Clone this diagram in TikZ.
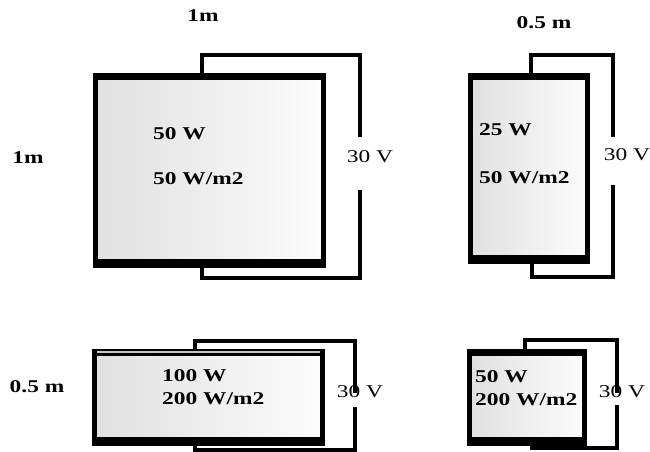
\documentclass[tikz,border=0pt]{standalone}
\usepackage{fontspec}
\setmainfont[FakeStretch=1.3]{Liberation Serif}
\usetikzlibrary{backgrounds}
\begin{document}
\begin{tikzpicture}[x=1pt,y=-1pt,
  panel/.style={draw=black, line width=5pt, left color=black!12, right color=black!1, inner sep=0pt, outer sep=0pt},
  topbar/.style={line width=7pt},
  botbar/.style={line width=9pt},
  wire/.style={line width=4pt, line join=miter},
  lbl/.style={font=\fontsize{18}{20}\selectfont\bfseries, inner sep=0pt, anchor=base},
  val/.style={font=\fontsize{18}{20}\selectfont\bfseries, inner sep=0pt, anchor=base west},
  volt/.style={font=\fontsize{18}{20}\selectfont, inner sep=0pt, anchor=base}]
\useasboundingbox (0,0) rectangle (650,452);

% panels
\node[panel, minimum width=228pt, minimum height=187pt] (p1) at (209.5,169.5) {};
\node[panel, minimum width=117pt, minimum height=183.5pt] (p2) at (529,167.75) {};
\node[panel, minimum width=228pt, minimum height=89pt] (p3) at (208.5,396.5) {};
\node[panel, minimum width=115pt, minimum height=89pt] (p4) at (527,396.5) {};

\foreach \p in {p1,p2,p3,p4}{
  \draw[topbar] ([xshift=-3pt]\p.north west) -- ([xshift=2.5pt]\p.north east);
  \draw[botbar] ([xshift=-2.5pt]\p.south west) -- ([xshift=2.5pt]\p.south east);
}
\draw[gray!45, line width=1.2pt] ([xshift=2.5pt]p3.north west) -- ([xshift=-2.5pt]p3.north east);

% wire coordinates
\coordinate (a1) at (202,55);  \coordinate (b1) at (360,137);
\coordinate (c1) at (360,190); \coordinate (d1) at (202,278);
\coordinate (a2) at (531,55);  \coordinate (b2) at (613,137);
\coordinate (c2) at (613,185); \coordinate (d2) at (532,277);
\coordinate (a3) at (195,341); \coordinate (b3) at (355,393);
\coordinate (c3) at (355,407); \coordinate (d3) at (195,450);
\coordinate (a4) at (525,340); \coordinate (b4) at (617,393);
\coordinate (c4) at (617,405); \coordinate (d4) at (532,448);

\begin{scope}[on background layer]
\foreach \i in {1,2,3,4}{
  \draw[wire] (p\i.north -| a\i) -- (a\i) -| (b\i);
  \draw[wire] (c\i) |- (d\i) -- (p\i.south -| d\i);
}
\end{scope}

% dimension labels
\node[lbl] (t1) at (203,22) {1m};
\node[lbl] (t2) at (544,29) {0.5 m};
\node[lbl] (l1) at (28,163) {1m};
\node[lbl] (l2) at (37,392) {0.5 m};

% values
\node[val] (v1a) at (153,139) {50 W};
\node[val] (v1b) at (153,184) {50 W/m2};
\node[val] (v2a) at (479,135) {25 W};
\node[val] (v2b) at (479,183) {50 W/m2};
\node[val] (v3a) at (162,381) {100 W};
\node[val] (v3b) at (162,404) {200 W/m2};
\node[val] (v4a) at (475,382) {50 W};
\node[val] (v4b) at (475,405) {200 W/m2};

% voltages
\node[volt] (u1) at (370,162) {30 V};
\node[volt] (u2) at (627,160) {30 V};
\node[volt] (u3) at (360,397) {30 V};
\node[volt] (u4) at (622,397) {30 V};
\end{tikzpicture}
\end{document}
